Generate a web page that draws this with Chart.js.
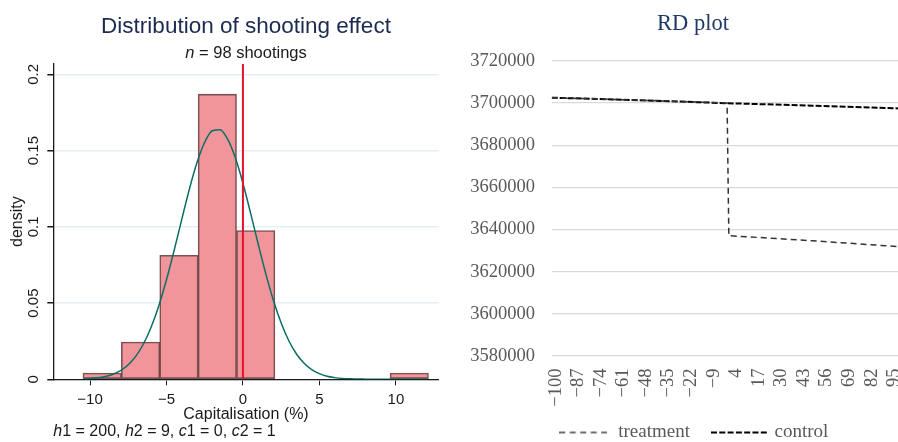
<!DOCTYPE html>
<html>
<head>
<meta charset="utf-8">
<script src="https://cdn.jsdelivr.net/npm/chart.js@4"></script>
<style>
  html, body { margin: 0; padding: 0; background: #fff; overflow: hidden; }
  #left { position: absolute; left: 0; top: 0; }
  #right { position: absolute; left: 450px; top: 0; }
</style>
</head>
<body>
<canvas id="left" width="450" height="442"></canvas>
<canvas id="right" width="486" height="442"></canvas>
<script>
// left panel: histogram of the shooting effect
const binCentres = [-9.205, -6.695, -4.185, -1.675, 0.835, 3.345, 5.855, 8.365, 10.875];
const binDensity = [0.0041, 0.0244, 0.0813, 0.187, 0.0976, 0, 0, 0, 0.0041];
const curveX = [-10.4, -10, -9.5, -9, -8.5, -8, -7.5, -7, -6.5, -6, -5.5, -5, -4.5, -4, -3.5, -3, -2.5, -2, -1.5, -1,
	-0.5, 0, 0.5, 1, 1.5, 2, 2.5, 3, 3.5, 4, 4.5, 5, 5.5, 6, 6.5, 7, 8, 9, 10, 11, 12.1];
const curveY = [0.0003, 0.0005, 0.00095, 0.0018, 0.0033, 0.0057, 0.0095, 0.0152, 0.0233, 0.0343, 0.0483, 0.0653, 0.0845, 0.1049, 0.1248, 0.1423, 0.1555, 0.163, 0.1636, 0.1575,
	0.1454, 0.1286, 0.109, 0.0886, 0.069, 0.0515, 0.0369, 0.0253, 0.0166, 0.0105, 0.0063, 0.0037, 0.002, 0.0011, 0.00055, 0.0003, 0.0001, 0, 0, 0, 0];
const cutoffX = 0;
const histXTicks = [-10, -5, 0, 5, 10];
const histYTicks = [0, 0.05, 0.1, 0.15, 0.2];

// right panel: RD plot
const rdXTicks = [-100, -87, -74, -61, -48, -35, -22, -9, 4, 17, 30, 43, 56, 69, 82, 95];
const treatmentX = [-100, -50, 0, 1, 2, 50, 100];
const treatmentY = [3702600, 3701400, 3700100, 3700000, 3637100, 3634700, 3631900];
const controlX = [-100, -50, 0, 50, 100];
const controlY = [3702600, 3701400, 3700000, 3698800, 3697500];

const SANS = '"Liberation Sans", Arial, sans-serif';
const SERIF = '"Liberation Serif", "Times New Roman", serif';
const minus = (v) => (v < 0 ? '\u2212' + Math.abs(v) : String(v));

// draws text made of plain and italic pieces
function drawRich(ctx, parts, x, y, size, align) {
	const fonts = parts.map(([, it]) => (it ? 'italic ' : '') + size + 'px ' + SANS);
	let total = 0;
	const widths = parts.map(([t], i) => {
		ctx.font = fonts[i];
		const w = ctx.measureText(t).width;
		total += w;
		return w;
	});
	let cx = align === 'center' ? x - total / 2 : x;
	parts.forEach(([t], i) => {
		ctx.font = fonts[i];
		ctx.fillText(t, cx, y);
		cx += widths[i];
	});
}

// dashed line sample used as legend symbol
function dashSample(width, dash, color, lineWidth) {
	const c = document.createElement('canvas');
	c.width = width;
	c.height = 4;
	const g = c.getContext('2d');
	g.strokeStyle = color;
	g.lineWidth = lineWidth;
	g.setLineDash(dash);
	g.beginPath();
	g.moveTo(0, 2);
	g.lineTo(width, 2);
	g.stroke();
	return c;
}

const histText = {
	id: 'histText',
	afterDraw(chart) {
		const { ctx, chartArea, scales } = chart;
		ctx.save();
		ctx.fillStyle = '#1a1a1a';
		ctx.textAlign = 'center';
		ctx.textBaseline = 'middle';
		ctx.font = '15px ' + SANS;
		histYTicks.forEach((v) => {
			ctx.save();
			ctx.translate(chartArea.left - 19.5, scales.y.getPixelForValue(v));
			ctx.rotate(-Math.PI / 2);
			ctx.fillText(String(v), 0, 0);
			ctx.restore();
		});
		ctx.textAlign = 'left';
		ctx.textBaseline = 'alphabetic';
		drawRich(ctx, [['n', true], [' = 98 shootings', false]], (chartArea.left + chartArea.right) / 2, 58.3, 16.5, 'center');
		drawRich(ctx, [['h', true], ['1 = 200, ', false], ['h', true], ['2 = 9, ', false],
			['c', true], ['1 = 0, ', false], ['c', true], ['2 = 1', false]], chartArea.left, 436, 16, 'left');
		ctx.restore();
	},
};

// let the rotated x labels run below the axis box instead of being clipped
const looseLabels = {
	id: 'looseLabels',
	afterLayout(chart) {
		chart.scales.x.bottom = chart.height;
	},
};

new Chart(document.getElementById('left'), {
	type: 'bar',
	data: {
		datasets: [
			{
				type: 'line',
				data: [{ x: cutoffX, y: 0 }, { x: cutoffX, y: 0.2068 }],
				borderColor: '#e8112d',
				borderWidth: 2,
				pointRadius: 0,
				order: 1,
			},
			{
				type: 'line',
				data: curveX.map((x, i) => ({ x, y: curveY[i] })),
				borderColor: '#0b6e64',
				borderWidth: 1.5,
				pointRadius: 0,
				cubicInterpolationMode: 'monotone',
				order: 2,
			},
			{
				type: 'bar',
				data: binCentres.map((x, i) => ({ x, y: binDensity[i] })),
				backgroundColor: '#f2959a',
				borderColor: 'rgba(100,50,53,0.85)',
				borderWidth: 1.6,
				borderSkipped: false,
				barPercentage: 1,
				categoryPercentage: 1,
				order: 3,
			},
		],
	},
	options: {
		responsive: false,
		animation: false,
		layout: { padding: { left: 0, right: 11.3, top: 0, bottom: 18.3 } },
		plugins: {
			legend: { display: false },
			tooltip: { enabled: false },
			title: {
				display: true,
				fullSize: false,
				text: 'Distribution of shooting effect',
				color: '#1b2a50',
				font: { family: SANS, size: 22.5, weight: 'normal' },
				padding: { top: 13.5, bottom: 64 - 13.5 - 27 },
			},
		},
		scales: {
			x: {
				type: 'linear',
				min: -12.4,
				max: 12.8,
				offset: false,
				afterBuildTicks: (s) => { s.ticks = histXTicks.map((v) => ({ value: v })); },
				afterFit: (s) => { s.height = 44.4; },
				ticks: { callback: minus, color: '#1a1a1a', font: { family: SANS, size: 15 }, padding: 6, maxRotation: 0 },
				grid: { offset: false, drawOnChartArea: false, tickLength: 6, tickColor: '#1a1a1a' },
				border: { color: '#1a1a1a', width: 1.3 },
				title: { display: true, text: 'Capitalisation (%)', color: '#1a1a1a', font: { family: SANS, size: 16 }, padding: 0 },
			},
			y: {
				min: 0,
				max: 0.2068,
				afterBuildTicks: (s) => { s.ticks = histYTicks.map((v) => ({ value: v })); },
				afterFit: (s) => { s.width = 53.3; },
				ticks: { display: false },
				grid: { color: '#e3f1f4', lineWidth: 1.5, tickLength: 6, tickColor: '#1a1a1a' },
				border: { color: '#1a1a1a', width: 1.3 },
				title: { display: true, text: 'density', color: '#1a1a1a', font: { family: SANS, size: 16 }, padding: { top: 8, bottom: 0 } },
			},
		},
	},
	plugins: [histText],
});

new Chart(document.getElementById('right'), {
	type: 'line',
	data: {
		datasets: [
			{
				label: 'treatment',
				data: treatmentX.map((x, i) => ({ x, y: treatmentY[i] })),
				borderColor: '#333333',
				borderWidth: 1.5,
				borderDash: [6, 4],
				pointRadius: 0,
				pointStyle: dashSample(48, [6, 4.5], '#404040', 1.6),
			},
			{
				label: 'control',
				data: controlX.map((x, i) => ({ x, y: controlY[i] })),
				borderColor: '#000000',
				borderWidth: 2,
				borderDash: [6, 2],
				pointRadius: 0,
				pointStyle: dashSample(57, [6, 2.3], '#000000', 2.2),
			},
		],
	},
	options: {
		responsive: false,
		animation: false,
		layout: { padding: { left: 0, right: 0, top: 0, bottom: -10 } },
		plugins: {
			tooltip: { enabled: false },
			title: {
				display: true,
				text: 'RD plot',
				color: '#1f3a68',
				font: { family: SERIF, size: 22.5, weight: 'normal' },
				padding: { top: 10.5, bottom: 61 - 10.5 - 27 },
			},
			legend: {
				position: 'bottom',
				labels: {
					usePointStyle: true,
					pointStyleWidth: 51,
					color: '#595959',
					font: { family: SERIF, size: 19 },
					padding: 24,
				},
			},
		},
		scales: {
			x: {
				type: 'linear',
				min: -100,
				max: 121.3,
				afterBuildTicks: (s) => { s.ticks = rdXTicks.map((v) => ({ value: v })); },
				afterFit: (s) => { s.height = 43; },
				ticks: { callback: minus, autoSkip: false, minRotation: 90, maxRotation: 90, labelOffset: 4, color: '#595959', font: { family: SERIF, size: 18.5 }, padding: 12.5 },
				grid: { display: false, drawTicks: false },
				border: { display: false },
			},
			y: {
				min: 3580000,
				max: 3720000,
				afterFit: (s) => { s.width = 101.7; },
				ticks: { stepSize: 20000, callback: (v) => String(v), color: '#595959', font: { family: SERIF, size: 18.5 }, padding: 16.7 },
				grid: { color: '#d9d9d9', lineWidth: 1.3, drawTicks: false },
				border: { display: false },
			},
		},
	},
	plugins: [looseLabels],
});
</script>
</body>
</html>
